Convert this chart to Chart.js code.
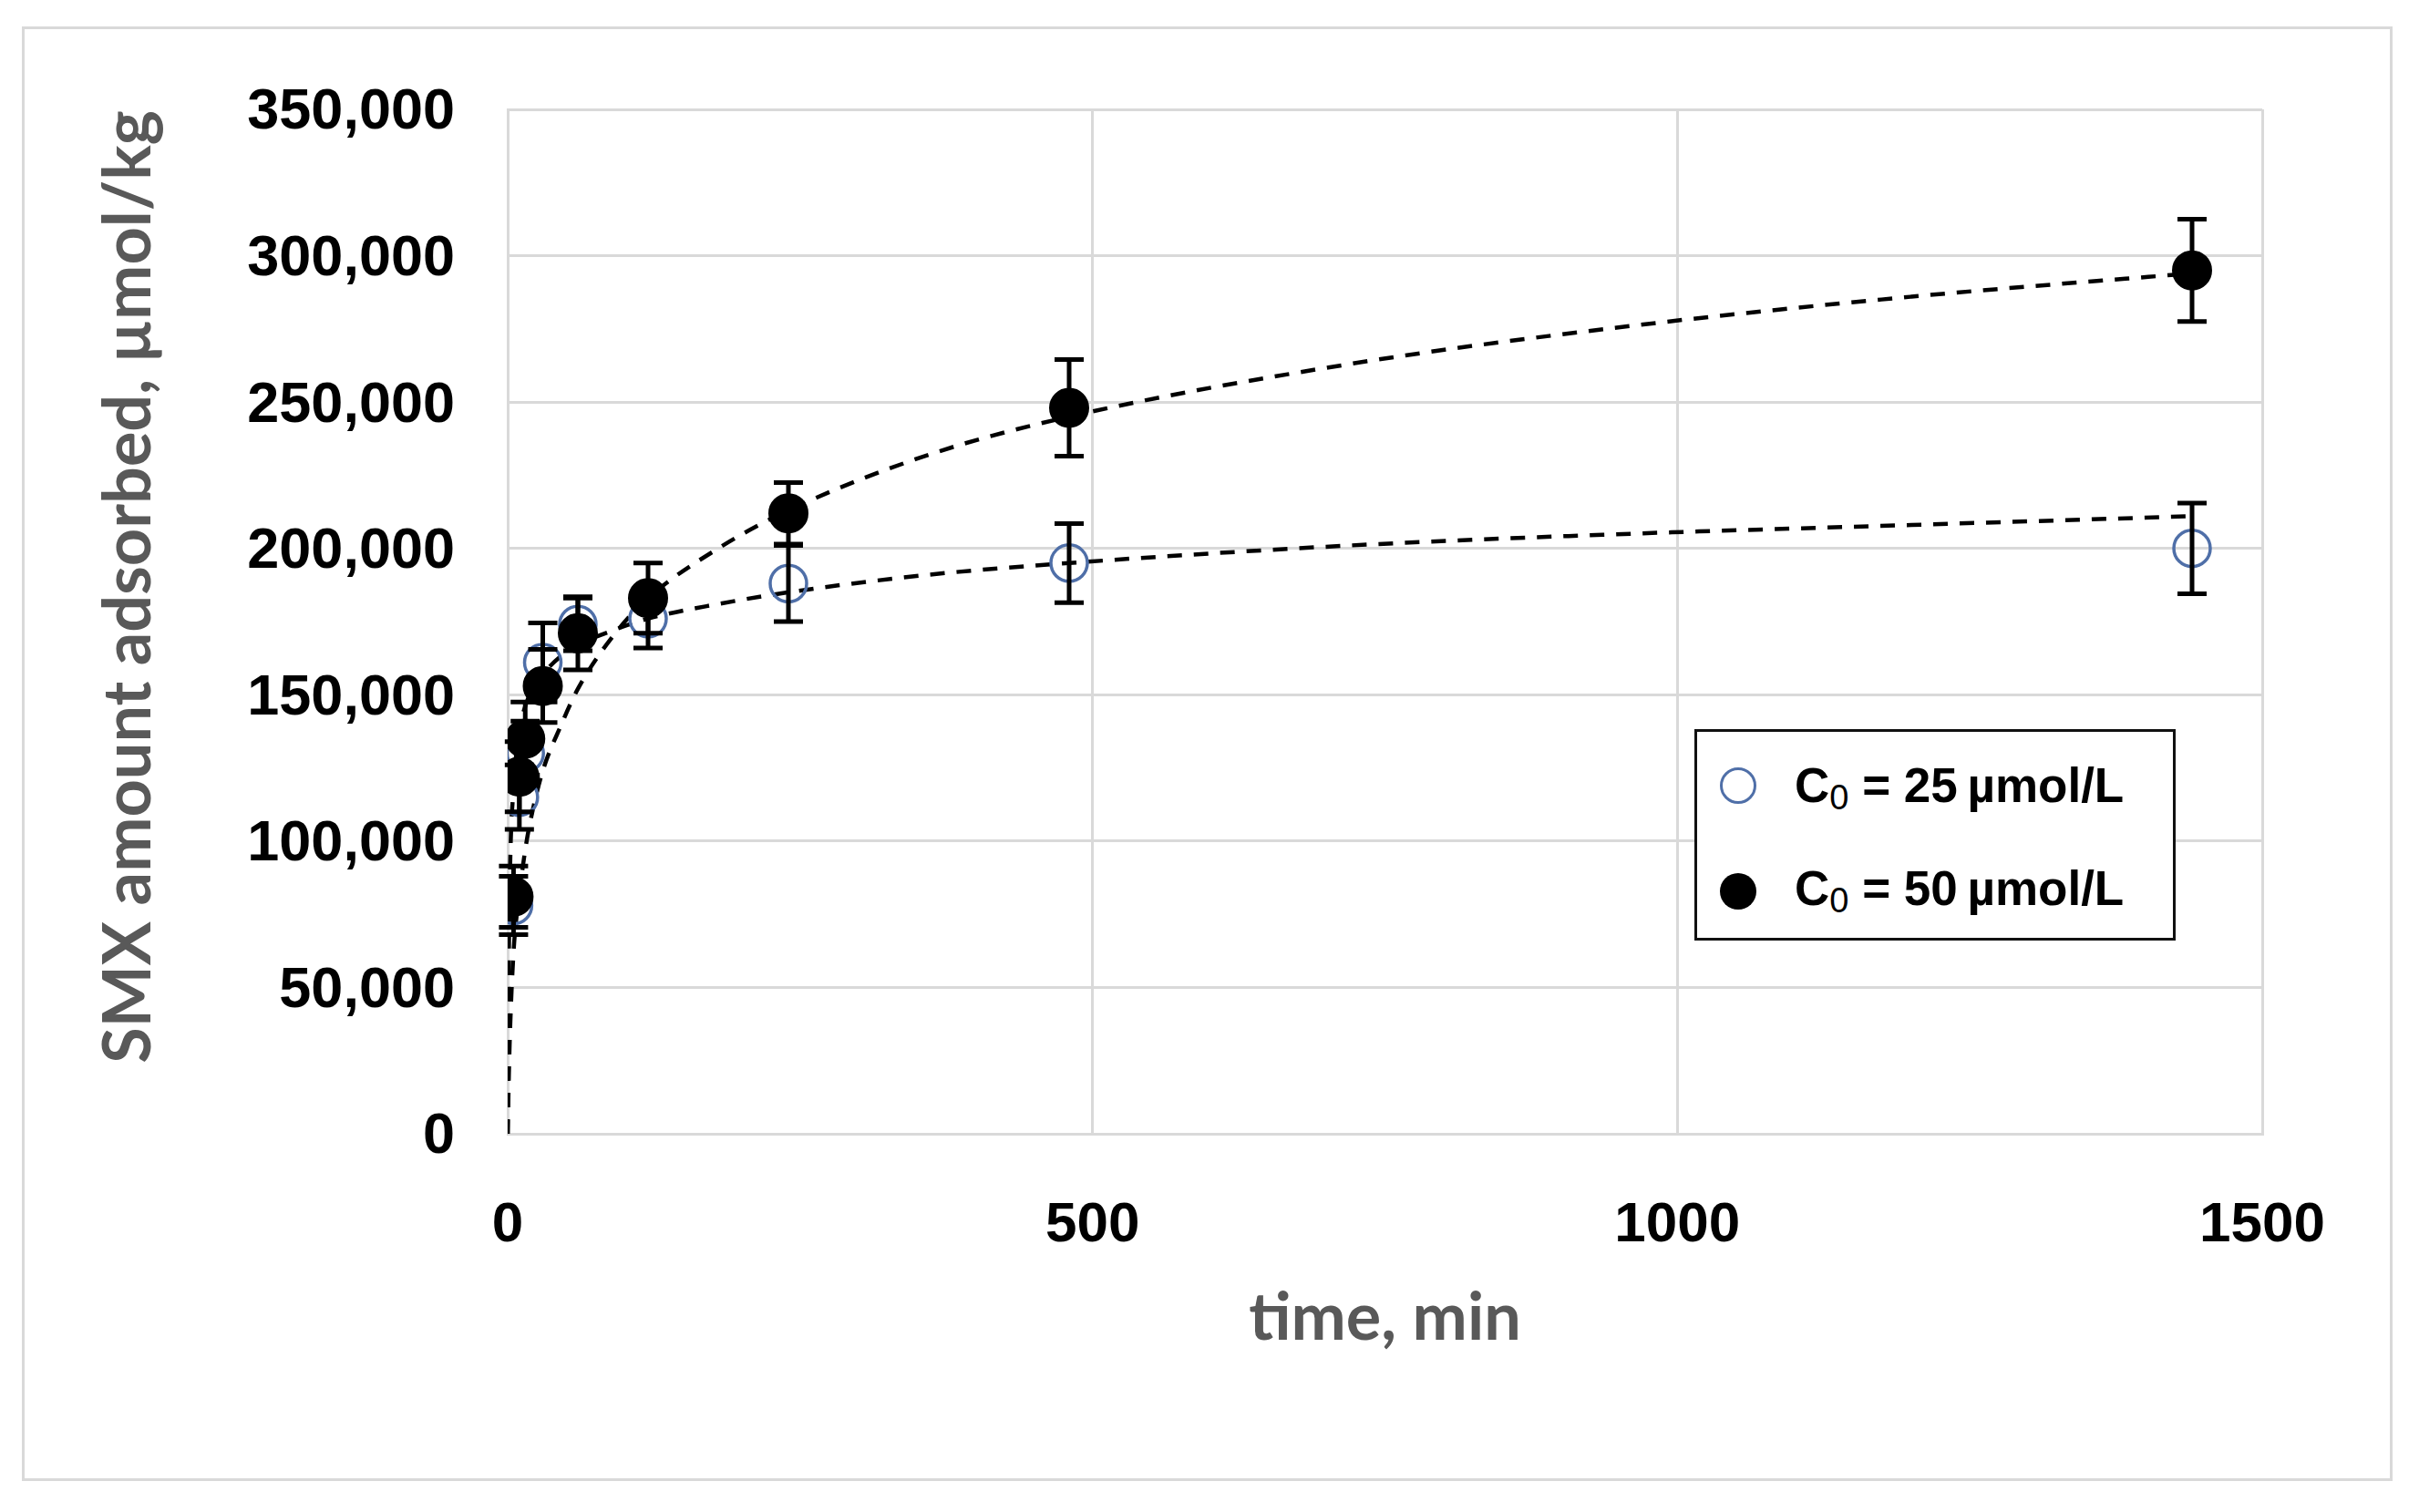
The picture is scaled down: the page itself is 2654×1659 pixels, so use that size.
<!DOCTYPE html>
<html>
<head>
<meta charset="utf-8">
<script src="https://cdn.jsdelivr.net/npm/chart.js@4.4.1/dist/chart.umd.min.js"></script>
<style>
  html, body { margin: 0; padding: 0; background: #fff; }
  #wrap { position: relative; width: 2654px; height: 1659px; }
  #frame { position: absolute; left: 24px; top: 29px; width: 2601px; height: 1596px;
           border: 3px solid #d9d9d9; box-sizing: border-box; pointer-events: none; }
  #legend { position: absolute; left: 1859px; top: 800px; width: 528px; height: 232px;
            border: 3px solid #111; box-sizing: border-box; background: #fff;
            font: bold 53px "Liberation Sans", Arial, sans-serif; color: #000; }
  .item { position: absolute; left: 107px; line-height: 53px; white-space: nowrap; }
  .item sub { font: normal 38px "Liberation Sans", Arial, sans-serif; vertical-align: -8px; line-height: 0; }
  .mark { position: absolute; left: 25px; width: 40px; height: 40px; border-radius: 50%; box-sizing: border-box; }
</style>
</head>
<body>
<div id="wrap">
  <canvas id="chart" width="2654" height="1659"></canvas>
  <div id="frame"></div>
  <div id="legend"></div>
</div>
<script>
// sampling times (min)
const times = [5, 10, 15, 30, 60, 120, 240, 480, 1440];
// C0 = 25 umol/L
const q25 = [78000, 115000, 130000, 161000, 174000, 176000, 188000, 195000, 200000];
const err25 = [10000, 11000, 11000, 13500, 9000, 10000, 13000, 13500, 15500];
// C0 = 50 umol/L
const q50 = [81000, 122000, 135000, 153000, 171000, 183000, 212000, 248000, 295000];
const err50 = [10500, 12000, 12500, 12500, 12500, 12000, 10500, 16500, 17500];

// dashed model curves
const fitTimes = [0, 1, 2, 5, 10, 15, 20, 30, 45, 60, 90, 120, 180, 240, 360, 480, 720, 960, 1200, 1440];
const fit25 = [0, 60000, 90000, 118000, 138000, 146000, 151000, 157000, 163000, 167000, 172000, 176000, 181000, 185000, 191000, 195000, 201000, 205000, 208000, 211000];
const fit50 = [0, 20000, 35000, 62000, 82000, 97000, 108000, 124000, 139000, 152000, 170000, 183000, 200000, 213000, 232000, 245000, 263000, 276000, 286000, 294000];

const concs = [25, 50];
const xTicks = [0, 500, 1000, 1500];
const yTicks = [0, 50000, 100000, 150000, 200000, 250000, 300000, 350000];

const xTitle = 'time, min';
const yTitle = 'SMX amount adsorbed, \u00b5mol/kg';

const toPts = (xs, ys) => xs.map((x, i) => ({ x: x, y: ys[i] }));
const openBlue = '#4f6fa8';

// error bars, drawn through the chart scales
const errorBars = {
  id: 'errorBars',
  afterDatasetDraw(chart, args) {
    const ds = chart.data.datasets[args.index];
    if (!ds.errors) return;
    const c = chart.ctx, xs = chart.scales.x, ys = chart.scales.y;
    c.save();
    c.strokeStyle = '#000';
    c.lineWidth = 5;
    ds.data.forEach((p, i) => {
      const px = xs.getPixelForValue(p.x);
      const top = ys.getPixelForValue(p.y + ds.errors[i]);
      const bot = ys.getPixelForValue(p.y - ds.errors[i]);
      c.beginPath();
      c.moveTo(px, top); c.lineTo(px, bot);
      c.moveTo(px - 16, top); c.lineTo(px + 16, top);
      c.moveTo(px - 16, bot); c.lineTo(px + 16, bot);
      c.stroke();
    });
    c.restore();
  }
};

// axis titles placed like the original
const axisTitles = {
  id: 'axisTitles',
  afterDraw(chart) {
    const c = chart.ctx, a = chart.chartArea;
    c.save();
    c.fillStyle = '#595959';
    c.font = 'bold 72px Lato';
    c.textAlign = 'center';
    c.textBaseline = 'alphabetic';
    c.fillText(xTitle, (a.left + a.right) / 2, 1470);
    c.translate(165, 644);
    c.rotate(-Math.PI / 2);
    c.fillText(yTitle, 0, 0);
    c.restore();
  }
};

const ctx = document.getElementById('chart').getContext('2d');
const chart = new Chart(ctx, {
  type: 'scatter',
  data: {
    datasets: [
      { label: 'C\u2080 = ' + concs[1] + ' \u00b5mol/L', data: toPts(times, q50), errors: err50,
        pointRadius: 21, backgroundColor: '#000', borderColor: '#000', borderWidth: 2, order: 1 },
      { label: 'C\u2080 = ' + concs[0] + ' \u00b5mol/L', data: toPts(times, q25), errors: err25,
        pointRadius: 20, backgroundColor: 'rgba(0,0,0,0)', borderColor: openBlue, borderWidth: 3.5, order: 2 },
      { label: 'fit 50', data: toPts(fitTimes, fit50), showLine: true, pointRadius: 0,
        borderColor: '#000', borderWidth: 4.5, borderDash: [16, 13], cubicInterpolationMode: 'monotone', order: 3 },
      { label: 'fit 25', data: toPts(fitTimes, fit25), showLine: true, pointRadius: 0,
        borderColor: '#000', borderWidth: 4.5, borderDash: [16, 13], cubicInterpolationMode: 'monotone', order: 4 }
    ]
  },
  options: {
    responsive: false,
    animation: false,
    devicePixelRatio: 1,
    layout: { padding: { top: 120, right: 172, left: 0, bottom: 0 } },
    plugins: { legend: { display: false }, tooltip: { enabled: false } },
    scales: {
      x: {
        type: 'linear', min: xTicks[0], max: xTicks[xTicks.length - 1],
        afterBuildTicks: s => { s.ticks = xTicks.map(v => ({ value: v })); },
        ticks: { color: '#000', padding: 64, callback: v => String(v),
                 font: { family: 'Liberation Sans', weight: 'bold', size: 62 } },
        grid: { color: '#d9d9d9', lineWidth: 3, drawTicks: false },
        border: { color: '#d9d9d9', width: 3 },
        afterFit: s => { s.height = 1659 - 1244; }
      },
      y: {
        min: yTicks[0], max: yTicks[yTicks.length - 1],
        afterBuildTicks: s => { s.ticks = yTicks.map(v => ({ value: v })); },
        ticks: { color: '#000', padding: 58, labelOffset: 4, callback: v => v.toLocaleString('en-US'),
                 font: { family: 'Liberation Sans', weight: 'bold', size: 63 } },
        grid: { color: '#d9d9d9', lineWidth: 3, drawTicks: false },
        border: { color: '#d9d9d9', width: 3 },
        afterFit: s => { s.width = 557; }
      }
    }
  },
  plugins: [errorBars, axisTitles]
});

// legend box built from the point datasets (25 first, then 50)
const legend = document.getElementById('legend');
[chart.data.datasets[1], chart.data.datasets[0]].forEach((ds, i) => {
  const mark = document.createElement('div');
  mark.className = 'mark';
  mark.style.top = (39 + i * 116) + 'px';
  if (ds.backgroundColor === '#000') {
    mark.style.background = '#000';
  } else {
    mark.style.border = '3px solid ' + ds.borderColor;
  }
  legend.appendChild(mark);
  const item = document.createElement('div');
  item.className = 'item';
  item.style.top = (32 + i * 113) + 'px';
  const parts = ds.label.split('\u2080');
  item.innerHTML = parts[0] + '<sub>0</sub>' + parts[1].replace(' \u00b5', '\u2009\u00b5');
  legend.appendChild(item);
});
</script>
</body>
</html>
